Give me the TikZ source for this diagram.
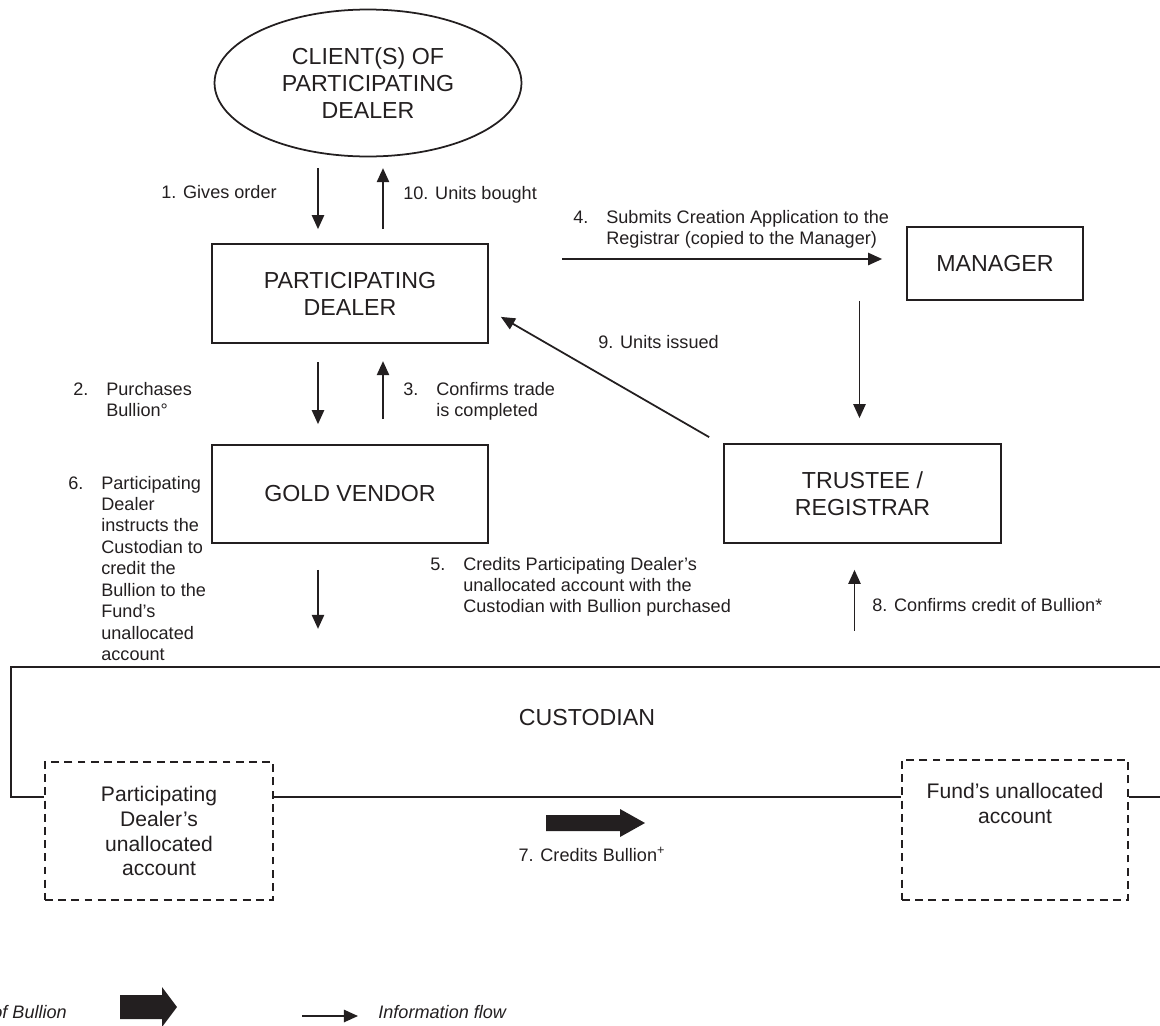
\documentclass[tikz,border=0pt]{standalone}
\usepackage{fontspec}
\setmainfont{Liberation Sans}
\usetikzlibrary{arrows.meta,calc,shapes.geometric}
\definecolor{ink}{HTML}{231F20}
\newcommand{\steplbl}[2]{\begin{tabular}[t]{@{}p{0.66cm}@{}l@{}}#1&#2\end{tabular}}
\tikzset{
  party/.style={draw=ink, line width=1pt, align=center, inner sep=0pt, font=\fontsize{13.2}{15.3}\selectfont},
  account/.style={draw=ink, line width=1pt, dash pattern=on 4.5pt off 3pt, inner sep=0pt, align=center, font=\fontsize{12}{14.2}\selectfont},
  note/.style={inner sep=0pt, font=\fontsize{10.3}{12.2}\selectfont},
  legend/.style={inner sep=0pt, font=\fontsize{10.3}{12.2}\selectfont\itshape},
  flow/.style={->, draw=ink, line width=1pt},
}
\begin{document}
\begin{tikzpicture}[x=0.02cm, y=-0.02cm, >={Triangle[length=8pt,width=7pt]}, every node/.style={text=ink}]
\useasboundingbox (0,0) rectangle (1160,1025);
% parties
\node[party, ellipse, minimum width=6.14cm, minimum height=2.94cm] (client) at (368,83) {CLIENT(S) OF\\PARTICIPATING\\DEALER};
\node[party, minimum width=5.52cm, minimum height=1.98cm] (pd) at (350,293.5) {PARTICIPATING\\DEALER};
\node[party, minimum width=5.52cm, minimum height=1.96cm] (gv) at (350,494) {GOLD VENDOR};
\node[party, minimum width=3.52cm, minimum height=1.46cm] (mgr) at (995,263.5) {MANAGER};
\node[party, minimum width=5.54cm, minimum height=1.98cm] (tr) at (862.5,493.5) {TRUSTEE /\\REGISTRAR};

% custodian and its two accounts
\node[party, draw=none] (cust) at (587,718) {CUSTODIAN};
\node[account, minimum width=4.56cm, minimum height=2.76cm] (pdacc) at (159,831) {Participating\\Dealer's\\unallocated\\account};
\node[account, minimum width=4.52cm, minimum height=2.8cm] (fundacc) at (1015,830) {};
\node[account, draw=none, anchor=north] (fundtxt) at ($(fundacc.north)+(0,23)$) {Fund's unallocated\\account};
\coordinate (cbl) at (11,797);
\draw[ink, line width=1pt] (1160,667) -| (cbl) -- (cbl -| pdacc.west)
  (cbl -| pdacc.east) -- (cbl -| fundacc.west)
  (cbl -| fundacc.east) -- (1160,797);

% information flow
\draw[flow] ($(pd.north)+(-32,-75)$) -- ($(pd.north)+(-32,-14)$);
\draw[flow] ($(pd.north)+(33,-14)$) -- ($(pd.north)+(33,-75)$);
\draw[flow] ($(gv.north)+(-32,-82)$) -- ($(gv.north)+(-32,-20)$);
\draw[flow] ($(gv.north)+(33,-25)$) -- ($(gv.north)+(33,-83)$);
\draw[flow] ($(gv.south)+(-32,26)$) -- ($(gv.south)+(-32,85)$);
\draw[flow] ($(mgr.west)+(-344,-4.5)$) -- ($(mgr.west)+(-24,-4.5)$);
\draw[flow] ($(mgr.south -| tr.north)+(-3,0)$) -- ($(tr.north)+(-3,-25)$);
\draw[flow] ($(tr.north west)+(-14,-6)$) -- ($(pd.south east)+(12,-27)$);
\draw[flow] ($(tr.south)+(-8,87)$) -- ($(tr.south)+(-8,26)$);

% step labels
\node[note, anchor=base east] (l1) at (277,198) {1. Gives order};
\node[note, anchor=base west] (l10) at (403,199) {10. Units bought};
\node[note, anchor=base west] (l4) at (573,223) {\steplbl{4.}{Submits Creation Application to the\\&Registrar (copied to the Manager)}};
\node[note, anchor=base west] (l2) at (73,395) {\steplbl{2.}{Purchases\\&Bullion°}};
\node[note, anchor=base west] (l3) at (403,395) {\steplbl{3.}{Confirms trade\\&is completed}};
\node[note, anchor=base west] (l9) at (598,348) {9. Units issued};
\node[note, anchor=base west] (l6) at (68,489) {\steplbl{6.}{Participating\\&Dealer\\&instructs the\\&Custodian to\\&credit the\\&Bullion to the\\&Fund's\\&unallocated\\&account}};
\node[note, anchor=base west] (l5) at (430,570) {\steplbl{5.}{Credits Participating Dealer's\\&unallocated account with the\\&Custodian with Bullion purchased}};
\node[note, anchor=base west] (l8) at (872,611) {8. Confirms credit of Bullion*};
\node[note, anchor=base] (l7) at (592,861) {7. Credits Bullion\textsuperscript{+}};

% bullion flow
\fill[ink] (546,815) -- ++(74,0) -- ++(0,-6) -- ++(25,14) -- ++(-25,14) -- ++(0,-6) -- ++(-74,0) -- cycle;

% legend
\node[legend, anchor=base west] (lgbul) at (-8,1018) {of Bullion};
\fill[ink] (120,995) -- ++(42,0) -- ++(0,-8) -- ++(15,20) -- ++(-15,20) -- ++(0,-8) -- ++(-42,0) -- cycle;
\coordinate (lgs) at (302,1016);
\coordinate (lge) at (358,1016);
\draw[flow] (lgs) -- (lge);
\node[legend, anchor=base west] (lginfo) at (378,1018) {Information flow};
\end{tikzpicture}
\end{document}
